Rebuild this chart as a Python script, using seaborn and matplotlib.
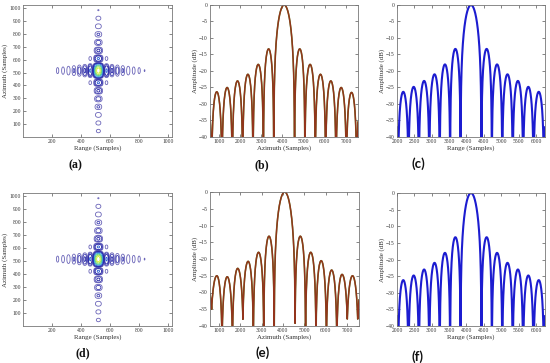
import numpy as np
import matplotlib
matplotlib.use("Agg")
import matplotlib.pyplot as plt
import seaborn as sns

# ---- data ----
# 2-D point target (a), (d): centre and null spacing in samples
pt_center_range = 520
pt_center_azimuth = 515
pt_spacing_range = 37.5
pt_spacing_azimuth = 62.5
range_left_db = [-13.3, -17.8, -20.8, -23.0, -24.7, -26.1, -27.2, -35.0]
range_right_db = [-13.3, -17.8, -20.8, -23.0, -24.7, -26.1, -27.2, -29.1]
azimuth_low_db = [-13.3, -17.8, -20.8, -23.0, -24.7, -26.1, -27.2, -35.0]
azimuth_high_db = [-13.3, -17.8, -20.8, -23.0, -24.7, -26.1, -29.1, -35.0]
contour_levels = [-29.3, -24.0, -19.0, -14.0, -9.0, -6.0, -3.5, -1.5]
contour_colors = ["#6a64b8", "#3c3cb0", "#1c1ca2", "#2358d0", "#2aa6c8", "#52cc7a", "#9ee040", "#d2f02c"]

# azimuth profile (b)
b_center, b_spacing = 4080, 490
b_left_db = [-13.3, -18.0, -21.0, -23.0, -25.0, -26.3, -27.2]
b_right_db = [-13.3, -18.0, -21.0, -23.0, -25.0, -26.5, -27.2]
b_null = [-60] * 8

# range profile (c)
c_center, c_spacing = 4130, 300
c_left_db = [-13.3, -18.0, -21.0, -23.0, -24.8, -26.3, -27.2]
c_right_db = [-13.3, -18.0, -21.0, -23.0, -24.8, -26.3, -27.2]
c_null = [-60] * 8

# azimuth profile (e)
e_center, e_spacing = 4080, 490
e_left_db = [-13.2, -18.0, -20.7, -22.8, -25.3, -25.0, -27.0]
e_right_db = [-13.2, -18.0, -20.5, -23.3, -24.6, -25.0, -27.0]
e_left_null = [-45, -45, -45, -38, -45, -45, -35]
e_right_null = [-39.5, -45, -45, -45, -45, -38, -38]

# range profile (f)
f_center, f_spacing = 4130, 300
f_left_db = [-13.3, -18.0, -21.0, -23.0, -24.8, -26.2, -27.2]
f_right_db = [-13.3, -18.0, -21.0, -23.0, -24.8, -26.2, -27.2]
f_null = [-60] * 8


def lobe_profile(x, center, spacing, left_db, right_db, left_null, right_null):
    u = (x - center) / spacing
    amp = np.zeros_like(u)
    main = np.abs(u) < 1
    amp[main] = np.sinc(u[main])
    for k, lv in enumerate(right_db, start=1):
        m = (u >= k) & (u < k + 1)
        amp[m] = 10 ** (lv / 20) * np.abs(np.sin(np.pi * u[m]))
    for k, lv in enumerate(left_db, start=1):
        m = (u <= -k) & (u > -k - 1)
        amp[m] = 10 ** (lv / 20) * np.abs(np.sin(np.pi * u[m]))
    idx = np.rint(u).astype(int)
    floor = np.zeros_like(u)
    for k, nv in enumerate(right_null, start=1):
        floor[idx == k] = 10 ** (nv / 20)
    for k, nv in enumerate(left_null, start=1):
        floor[idx == -k] = 10 ** (nv / 20)
    amp = amp + floor * (1 - np.abs(np.sin(np.pi * u)))
    return 20 * np.log10(np.maximum(amp, 1e-6))


sns.set_style("ticks")
plt.rcParams["font.family"] = ["Liberation Serif", "DejaVu Serif"]

fig = plt.figure(figsize=(5.5, 3.63), dpi=100)

W, H = 550, 363


def add_axes(l, r, t, b):
    return fig.add_axes([l / W, 1 - b / H, (r - l) / W, (b - t) / H])


def style(ax):
    ax.tick_params(direction="in", top=True, right=True, length=2, width=0.5,
                   labelsize=4, pad=1.5, colors="#555555", labelcolor="#333333")
    for s in ax.spines.values():
        s.set_linewidth(0.6)
        s.set_color("#777777")


def point_target(ax):
    x = np.arange(0, 1025, 1.0)
    r_db = lobe_profile(x, pt_center_range, pt_spacing_range, range_left_db, range_right_db,
                        [-80] * 9, [-80] * 9)
    a_db = lobe_profile(x, pt_center_azimuth, pt_spacing_azimuth, azimuth_low_db, azimuth_high_db,
                        [-80] * 9, [-80] * 9)
    z = a_db[:, None] + r_db[None, :]
    ax.contour(x, x, z, levels=contour_levels, colors=contour_colors, linewidths=0.6)
    ax.set_xlim(0, 1028)
    ax.set_ylim(0, 1024)
    ax.set_xticks([200, 400, 600, 800, 1000])
    ax.set_yticks(range(100, 1001, 100))
    ax.set_xlabel("Range (Samples)", fontsize=5, labelpad=1, color="#333333")
    ax.set_ylabel("Azimuth (Samples)", fontsize=5, labelpad=1, color="#333333")
    style(ax)


def profile(ax, x, y, colors, xlabel, xlim, xticks):
    for c, lw in colors:
        sns.lineplot(x=x, y=y, ax=ax, color=c, linewidth=lw)
    ax.set_xlim(*xlim)
    ax.set_ylim(-40, 0)
    ax.set_xticks(xticks)
    ax.set_yticks(range(-40, 1, 5))
    ax.set_xlabel(xlabel, fontsize=5, labelpad=1, color="#333333")
    ax.set_ylabel("Amplitude (dB)", fontsize=5, labelpad=1, color="#333333")
    style(ax)


brown = [("#5f7a22", 1.15), ("#93341c", 1.0)]
blue = [("#1c1cd0", 1.5)]

ax_a = add_axes(23, 172, 5, 137)
point_target(ax_a)

xb = np.linspace(575, 7570, 6000)
ax_b = add_axes(210, 358, 5, 137)
profile(ax_b, xb, lobe_profile(xb, b_center, b_spacing, b_left_db, b_right_db, b_null, b_null),
        brown, "Azimuth (Samples)", (575, 7570), range(1000, 7001, 1000))

xc = np.linspace(2000, 6260, 6000)
ax_c = add_axes(397, 545, 5, 137)
profile(ax_c, xc, lobe_profile(xc, c_center, c_spacing, c_left_db, c_right_db, c_null, c_null),
        blue, "Range (Samples)", (2000, 6260), range(2000, 6001, 500))

ax_d = add_axes(23, 172, 193, 326)
point_target(ax_d)

ax_e = add_axes(210, 359, 192, 326)
profile(ax_e, xb, lobe_profile(xb, e_center, e_spacing, e_left_db, e_right_db, e_left_null, e_right_null),
        brown, "Azimuth (Samples)", (575, 7570), range(1000, 7001, 1000))

ax_f = add_axes(397, 545, 193, 326)
profile(ax_f, xc, lobe_profile(xc, f_center, f_spacing, f_left_db, f_right_db, f_null, f_null),
        blue, "Range (Samples)", (2000, 6260), range(2000, 6001, 500))

panel_labels = ["(a)", "(b)", "(c)", "(d)", "(e)", "(f)"]
label_pos = [(75, 165), (262, 165), (418, 164), (83, 353), (263, 353), (418, 357)]
for txt, (px, py) in zip(panel_labels, label_pos):
    serif = txt in ("(a)", "(b)", "(d)")
    fam = ["Liberation Serif"] if serif else ["Lato", "DejaVu Sans"]
    fig.text(px / W, 1 - py / H, txt, ha="center", va="center", fontsize=8.5 if serif else 9.5,
             fontweight="bold", family=fam, color="#111111")

fig.savefig("out.png", dpi=100)
